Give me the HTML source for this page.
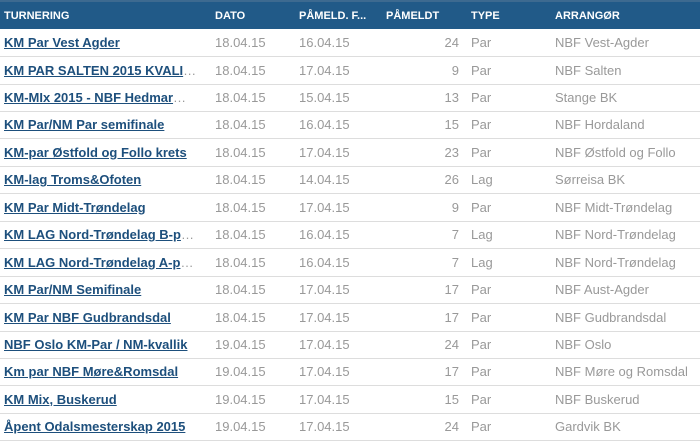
<!DOCTYPE html>
<html><head><meta charset="utf-8"><style>
body{margin:0;width:700px;height:441px;overflow:hidden;background:#fff;font-family:"Liberation Sans",sans-serif;}
.h{position:absolute;left:0;top:0;width:700px;height:29px;background:#215a88;border-top:2px solid #3d6a90;box-sizing:border-box;color:#fff;font-weight:bold;font-size:11px;}
.h span,.r span{position:absolute;white-space:nowrap;}
.h span{top:8px;}
.r{position:absolute;left:0;width:700px;height:27px;border-bottom:1px solid #ddd;font-size:13px;color:#999;}
.r span{top:6px;}
.r a{color:#1d4f7c;font-weight:bold;text-decoration:underline;font-size:13px;}
.c1{left:4px}.c2{left:215px}.c3{left:299px}.c4{right:241px;text-align:right}.c5{left:471px}.c6{left:555px}
</style></head><body>
<div class="h"><span class="c1">TURNERING</span><span class="c2">DATO</span><span class="c3">PÅMELD. F...</span><span style="left:386px">PÅMELDT</span><span class="c5">TYPE</span><span class="c6">ARRANGØR</span></div>
<div class="r" style="top:29px"><span class="c1"><a>KM Par Vest Agder</a></span><span class="c2">18.04.15</span><span class="c3">16.04.15</span><span class="c4">24</span><span class="c5">Par</span><span class="c6">NBF Vest-Agder</span></div>
<div class="r" style="top:56.5px"><span class="c1"><a>KM PAR SALTEN 2015 KVALI</a>…</span><span class="c2">18.04.15</span><span class="c3">17.04.15</span><span class="c4">9</span><span class="c5">Par</span><span class="c6">NBF Salten</span></div>
<div class="r" style="top:84px"><span class="c1"><a>KM-MIx 2015 - NBF Hedmar</a>…</span><span class="c2">18.04.15</span><span class="c3">15.04.15</span><span class="c4">13</span><span class="c5">Par</span><span class="c6">Stange BK</span></div>
<div class="r" style="top:111.4px"><span class="c1"><a>KM Par/NM Par semifinale</a></span><span class="c2">18.04.15</span><span class="c3">16.04.15</span><span class="c4">15</span><span class="c5">Par</span><span class="c6">NBF Hordaland</span></div>
<div class="r" style="top:138.8px"><span class="c1"><a>KM-par Østfold og Follo krets</a></span><span class="c2">18.04.15</span><span class="c3">17.04.15</span><span class="c4">23</span><span class="c5">Par</span><span class="c6">NBF Østfold og Follo</span></div>
<div class="r" style="top:166.2px"><span class="c1"><a>KM-lag Troms&amp;Ofoten</a></span><span class="c2">18.04.15</span><span class="c3">14.04.15</span><span class="c4">26</span><span class="c5">Lag</span><span class="c6">Sørreisa BK</span></div>
<div class="r" style="top:193.7px"><span class="c1"><a>KM Par Midt-Trøndelag</a></span><span class="c2">18.04.15</span><span class="c3">17.04.15</span><span class="c4">9</span><span class="c5">Par</span><span class="c6">NBF Midt-Trøndelag</span></div>
<div class="r" style="top:221.1px"><span class="c1"><a>KM LAG Nord-Trøndelag B-p</a>…</span><span class="c2">18.04.15</span><span class="c3">16.04.15</span><span class="c4">7</span><span class="c5">Lag</span><span class="c6">NBF Nord-Trøndelag</span></div>
<div class="r" style="top:248.6px"><span class="c1"><a>KM LAG Nord-Trøndelag A-p</a>…</span><span class="c2">18.04.15</span><span class="c3">16.04.15</span><span class="c4">7</span><span class="c5">Lag</span><span class="c6">NBF Nord-Trøndelag</span></div>
<div class="r" style="top:276px"><span class="c1"><a>KM Par/NM Semifinale</a></span><span class="c2">18.04.15</span><span class="c3">17.04.15</span><span class="c4">17</span><span class="c5">Par</span><span class="c6">NBF Aust-Agder</span></div>
<div class="r" style="top:303.5px"><span class="c1"><a>KM Par NBF Gudbrandsdal</a></span><span class="c2">18.04.15</span><span class="c3">17.04.15</span><span class="c4">17</span><span class="c5">Par</span><span class="c6">NBF Gudbrandsdal</span></div>
<div class="r" style="top:330.9px"><span class="c1"><a>NBF Oslo KM-Par / NM-kvallik</a></span><span class="c2">19.04.15</span><span class="c3">17.04.15</span><span class="c4">24</span><span class="c5">Par</span><span class="c6">NBF Oslo</span></div>
<div class="r" style="top:358.4px"><span class="c1"><a>Km par NBF Møre&amp;Romsdal</a></span><span class="c2">19.04.15</span><span class="c3">17.04.15</span><span class="c4">17</span><span class="c5">Par</span><span class="c6">NBF Møre og Romsdal</span></div>
<div class="r" style="top:385.8px"><span class="c1"><a>KM Mix, Buskerud</a></span><span class="c2">19.04.15</span><span class="c3">17.04.15</span><span class="c4">15</span><span class="c5">Par</span><span class="c6">NBF Buskerud</span></div>
<div class="r" style="top:413.3px"><span class="c1"><a>Åpent Odalsmesterskap 2015</a></span><span class="c2">19.04.15</span><span class="c3">17.04.15</span><span class="c4">24</span><span class="c5">Par</span><span class="c6">Gardvik BK</span></div>
</body></html>
